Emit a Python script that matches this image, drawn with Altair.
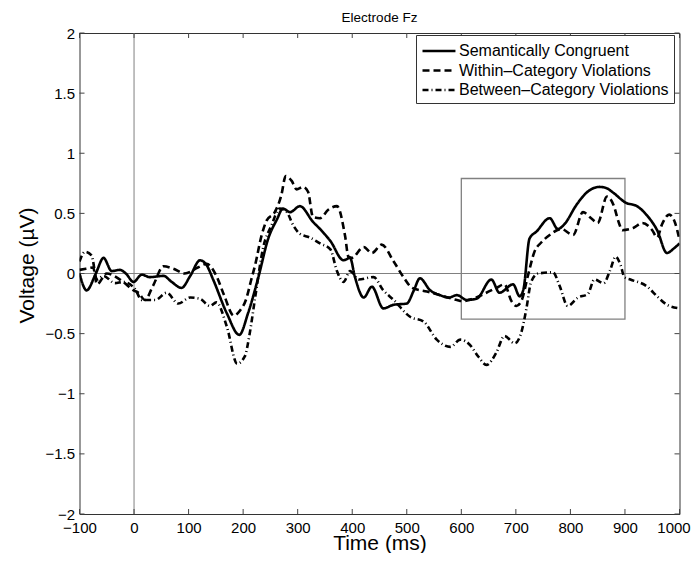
import altair as alt
import pandas as pd

# ---- data ----
sc_t = [-100, -87, -70, -56, -41, -26, -15, -1, 14, 29, 54, 69, 87, 103, 121, 133, 145, 170, 193, 209, 228, 246, 262, 273, 286, 304, 328, 341, 360, 384, 396, 405, 421, 436, 457, 476, 500, 513, 524, 543, 561, 577, 592, 610, 628, 655, 670, 695, 707, 714, 725, 738, 762, 777, 789, 811, 829, 853, 866, 879, 901, 922, 941, 959, 977, 990, 1000]
sc_v = [0.0, -0.14, 0.0, 0.13, 0.02, 0.03, 0.0, -0.07, -0.01, -0.03, -0.02, -0.07, -0.12, -0.02, 0.11, 0.07, -0.05, -0.33, -0.51, -0.33, -0.03, 0.29, 0.45, 0.54, 0.51, 0.56, 0.43, 0.37, 0.27, 0.11, 0.13, -0.03, -0.20, -0.11, -0.29, -0.26, -0.25, -0.14, -0.04, -0.14, -0.18, -0.20, -0.18, -0.22, -0.21, -0.05, -0.16, -0.09, -0.19, -0.13, 0.29, 0.35, 0.46, 0.37, 0.41, 0.57, 0.67, 0.72, 0.71, 0.67, 0.59, 0.56, 0.48, 0.36, 0.17, 0.21, 0.25]

wc_t = [-100, -88, -75, -68, -50, -20, -1, 8, 20, 35, 54, 72, 93, 117, 133, 151, 165, 183, 194, 205, 215, 222, 234, 243, 258, 270, 278, 289, 298, 310, 319, 328, 341, 356, 372, 387, 393, 399, 421, 436, 454, 476, 494, 510, 537, 561, 592, 603, 621, 646, 664, 679, 692, 701, 710, 722, 734, 747, 762, 783, 805, 823, 838, 850, 867, 879, 889, 895, 916, 932, 950, 959, 968, 981, 992, 1000]
wc_v = [0.03, 0.04, 0.05, -0.09, 0.0, -0.07, -0.14, -0.16, -0.22, -0.10, 0.06, 0.04, 0.0, 0.05, 0.08, -0.02, -0.18, -0.35, -0.31, -0.22, -0.05, 0.07, 0.32, 0.44, 0.51, 0.65, 0.81, 0.77, 0.70, 0.72, 0.68, 0.47, 0.46, 0.53, 0.56, 0.31, 0.14, 0.13, 0.22, 0.17, 0.24, 0.10, -0.03, -0.12, -0.15, -0.18, -0.22, -0.23, -0.21, -0.16, -0.12, -0.09, -0.23, -0.27, -0.23, -0.02, 0.18, 0.26, 0.32, 0.37, 0.32, 0.51, 0.46, 0.42, 0.64, 0.57, 0.42, 0.36, 0.38, 0.42, 0.36, 0.30, 0.41, 0.49, 0.42, 0.28]

bc_t = [-100, -90, -78, -68, -56, -35, -20, 2, 14, 39, 60, 81, 103, 121, 139, 151, 170, 189, 203, 212, 222, 237, 252, 267, 280, 292, 304, 322, 341, 360, 372, 384, 396, 412, 439, 457, 476, 506, 531, 555, 580, 598, 615, 631, 646, 664, 679, 698, 710, 719, 728, 741, 768, 780, 795, 814, 832, 844, 861, 873, 883, 892, 899, 910, 941, 959, 977, 1000]
bc_v = [0.10, 0.18, 0.15, -0.05, -0.02, -0.08, -0.07, -0.13, -0.22, -0.22, -0.16, -0.25, -0.20, -0.21, -0.27, -0.24, -0.44, -0.75, -0.69, -0.50, -0.20, 0.22, 0.40, 0.54, 0.51, 0.40, 0.33, 0.30, 0.25, 0.20, 0.02, -0.07, 0.02, -0.05, -0.03, -0.14, -0.22, -0.36, -0.40, -0.55, -0.61, -0.55, -0.59, -0.69, -0.76, -0.66, -0.52, -0.58, -0.49, -0.30, -0.07, 0.0, 0.01, -0.10, -0.27, -0.20, -0.17, -0.05, -0.08, 0.03, 0.14, 0.07, -0.03, -0.05, -0.11, -0.19, -0.26, -0.29]

series_names = ["Semantically Congruent", "Within\u2013Category Violations", "Between\u2013Category Violations"]
title_text = ["Electrode Fz"]

x_ticks = list(range(-100, 1001, 100))
y_ticks = [-2, -1.5, -1, -0.5, 0, 0.5, 1, 1.5, 2]

box_t = [600, 900]
box_v = [-0.38, 0.79]

# ---- build table ----
rows = []
for name, ts, vs in zip(series_names, [sc_t, wc_t, bc_t], [sc_v, wc_v, bc_v]):
    for t, v in zip(ts, vs):
        rows.append({"t": t, "v": v, "series": name})
df = pd.DataFrame(rows)

W, H = 600, 481
FONT = "Liberation Sans"

xs = alt.Scale(domain=[-100, 1000], nice=False, zero=False)
ys = alt.Scale(domain=[-2, 2], nice=False, zero=False)

lines = alt.Chart(df).mark_line(color="black", interpolate="monotone", clip=True).encode(
    x=alt.X("t:Q", scale=xs,
            axis=alt.Axis(values=x_ticks, format="d", title="Time (ms)", grid=False, domain=False,
                          ticks=False, tickSize=0, labelFontSize=15, labelPadding=6,
                          labelFlush=False, labelOverlap=False, labelColor="black",
                          labelOffset=alt.condition("datum.value == 1000", alt.value(-6), alt.value(0)),
                          titleFontSize=21, titleFontWeight="normal", titleColor="black",
                          titleX=W / 2, titleY=35, titleBaseline="alphabetic")),
    y=alt.Y("v:Q", scale=ys,
            axis=alt.Axis(values=y_ticks, format="~g", title="Voltage (\u00b5V)", grid=False, domain=False,
                          ticks=False, tickSize=0, labelFontSize=15, labelPadding=5,
                          labelFlush=False, labelOverlap=False, labelColor="black",
                          titleFontSize=21, titleFontWeight="normal", titleColor="black",
                          titleX=-52, titleY=232, titleBaseline="middle")),
    strokeDash=alt.StrokeDash("series:N", sort=series_names,
                              scale=alt.Scale(domain=series_names,
                                              range=[[1, 0], [7, 4], [6, 3, 1, 3]]),
                              legend=alt.Legend(title=None)),
    strokeWidth=alt.StrokeWidth("series:N", sort=series_names,
                                scale=alt.Scale(domain=series_names, range=[2.6, 2.6, 1]),
                                legend=alt.Legend(title=None)),
)

zero_h = alt.Chart(pd.DataFrame({"v": [0]})).mark_rule(color="#808080", strokeWidth=1).encode(
    y=alt.Y("v:Q", scale=ys))
zero_v = alt.Chart(pd.DataFrame({"t": [0]})).mark_rule(color="#808080", strokeWidth=1).encode(
    x=alt.X("t:Q", scale=xs))

box = alt.Chart(pd.DataFrame({"t": [box_t[0]], "t2": [box_t[1]], "v": [box_v[0]], "v2": [box_v[1]]})).mark_rect(
    fill=None, fillOpacity=0, stroke="#808080", strokeWidth=1.3).encode(
    x=alt.X("t:Q", scale=xs), x2="t2:Q", y=alt.Y("v:Q", scale=ys), y2="v2:Q")

xt = pd.DataFrame({"t": x_ticks})
yt = pd.DataFrame({"v": y_ticks})
tick_b = alt.Chart(xt).mark_rule(color="#444", strokeWidth=1).encode(
    x=alt.X("t:Q", scale=xs), y=alt.value(H), y2=alt.value(H - 5))
tick_t = alt.Chart(xt).mark_rule(color="#444", strokeWidth=1).encode(
    x=alt.X("t:Q", scale=xs), y=alt.value(0), y2=alt.value(5))
tick_l = alt.Chart(yt).mark_rule(color="#444", strokeWidth=1).encode(
    y=alt.Y("v:Q", scale=ys), x=alt.value(0), x2=alt.value(5))
tick_r = alt.Chart(yt).mark_rule(color="#444", strokeWidth=1).encode(
    y=alt.Y("v:Q", scale=ys), x=alt.value(W), x2=alt.value(W - 5))

title = alt.Chart(pd.DataFrame({"label": title_text})).mark_text(
    font=FONT, fontSize=13.5, color="black", align="center", baseline="alphabetic").encode(
    text="label:N", x=alt.value(W / 2), y=alt.value(-11))

chart = alt.layer(zero_h, zero_v, box, tick_b, tick_t, tick_l, tick_r, lines, title).properties(
    width=W, height=H,
    autosize=alt.AutoSizeParams(type="none"),
    padding={"left": 71.5, "top": 25, "right": 11.5, "bottom": 39},
).configure(font=FONT).configure_view(
    stroke="#333", strokeWidth=1
).configure_axis(
    labelFont=FONT, titleFont=FONT
).configure_legend(
    orient="none", legendX=336.5, legendY=2,
    strokeColor="#333", fillColor="white", padding=5, rowPadding=0.5,
    labelFontSize=16, labelFont=FONT, labelColor="black", labelOffset=16, labelLimit=400,
    symbolType="M-1,0H2.47", symbolSize=361, symbolStrokeColor="black",
    cornerRadius=0,
)

chart.save("out.html", embed_options={"renderer": "svg", "actions": False})
